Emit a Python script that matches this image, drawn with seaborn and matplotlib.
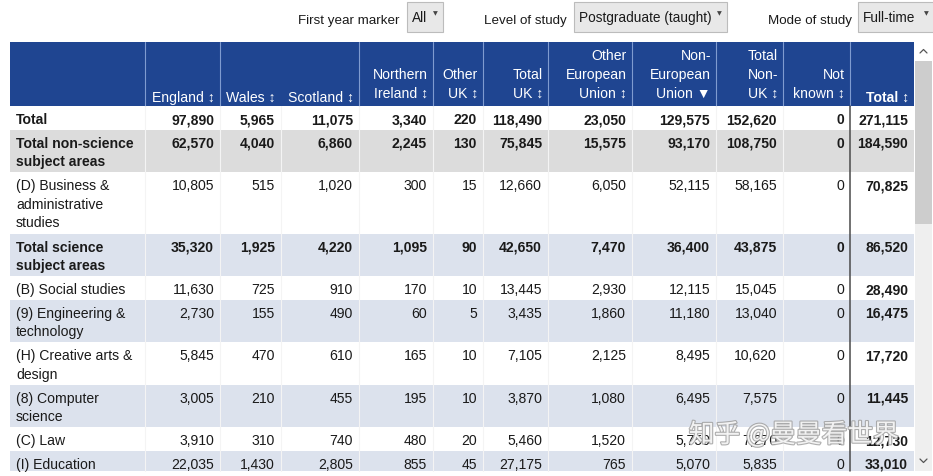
import matplotlib
matplotlib.use("Agg")
import matplotlib.pyplot as plt
import matplotlib.patheffects as pe
import seaborn as sns

# ---- data -------------------------------------------------------------
col_labels = [
    "England", "Wales", "Scotland", "Northern\nIreland", "Other\nUK",
    "Total\nUK", "Other\nEuropean\nUnion", "Non-\nEuropean\nUnion",
    "Total\nNon-\nUK", "Not\nknown", "Total",
]
sort_icons = ["↕", "↕", "↕", "↕", "↕", "↕", "↕", "▼", "↕", "↕", "↕"]

row_labels = [
    "Total",
    "Total non-science\nsubject areas",
    "(D) Business &\nadministrative\nstudies",
    "Total science\nsubject areas",
    "(B) Social studies",
    "(9) Engineering &\ntechnology",
    "(H) Creative arts &\ndesign",
    "(8) Computer\nscience",
    "(C) Law",
    "(I) Education",
]

total = [97890, 5965, 11075, 3340, 220, 118490, 23050, 129575, 152620, 0, 271115]
non_science = [62570, 4040, 6860, 2245, 130, 75845, 15575, 93170, 108750, 0, 184590]
business = [10805, 515, 1020, 300, 15, 12660, 6050, 52115, 58165, 0, 70825]
science = [35320, 1925, 4220, 1095, 90, 42650, 7470, 36400, 43875, 0, 86520]
social = [11630, 725, 910, 170, 10, 13445, 2930, 12115, 15045, 0, 28490]
engineering = [2730, 155, 490, 60, 5, 3435, 1860, 11180, 13040, 0, 16475]
creative = [5845, 470, 610, 165, 10, 7105, 2125, 8495, 10620, 0, 17720]
computer = [3005, 210, 455, 195, 10, 3870, 1080, 6495, 7575, 0, 11445]
law = [3910, 310, 740, 480, 20, 5460, 1520, 5750, 7270, 0, 12730]
education = [22035, 1430, 2805, 855, 45, 27175, 765, 5070, 5835, 0, 33010]

table_rows = [total, non_science, business, science, social,
              engineering, creative, computer, law, education]

filters = [
    ("First year marker", "All"),
    ("Level of study", "Postgraduate (taught)"),
    ("Mode of study", "Full-time"),
]

# ---- style / layout ---------------------------------------------------
HEADER_BLUE = "#1f4591"
GREY_ROW = "#dcdcdc"
BLUE_ROW = "#dce2ed"
TEXT = "#1a1a1a"

row_fill = ["white", GREY_ROW, "white", BLUE_ROW, "white",
            BLUE_ROW, "white", BLUE_ROW, "white", BLUE_ROW]
row_bold = [True, True, False, True, False, False, False, False, False, False]

label_width = 135
col_widths = [75, 61, 78, 74, 50, 65, 84, 84, 67, 67, 64]
table_left = 10
header_top, header_bottom = 43, 107
view_bottom = 472
line_h = 19
fs = 10.1

filter_label_right = [400, 567, 852]
filter_box = [(407, 443), (574, 727), (858, 935)]


def main() -> None:
    sns.set_theme(style="white")
    plt.rcParams["font.family"] = ["Liberation Sans", "DejaVu Sans"]

    fig = plt.figure(figsize=(9.33, 4.77), dpi=100)
    ax = fig.add_axes([0, 0, 1, 1])
    ax.set_xlim(0, 933)
    ax.set_ylim(477, 0)
    ax.set_axis_off()

    edges = [table_left, table_left + label_width]
    for w in col_widths:
        edges.append(edges[-1] + w)
    table_right = edges[-1]

    # filter controls
    for (label, value), right, (x0, x1) in zip(filters, filter_label_right, filter_box):
        ax.text(right, 21, label, ha="right", va="center", fontsize=9.6, color=TEXT)
        ax.add_patch(plt.Rectangle((x0, 3), x1 - x0, 30, facecolor="#e8e8e8",
                                   edgecolor="#bcbcbc", linewidth=0.8))
        ax.text(x0 + 5, 18, value, ha="left", va="center", fontsize=9.8, color=TEXT)
        ax.text(x1 - 8 if x1 < 933 else 926, 14, "▼", ha="center", va="center",
                fontsize=4.5, color="#444444", family=["DejaVu Sans"])

    # header band
    ax.bar(table_left, header_bottom - header_top, width=table_right - table_left,
           bottom=header_top, align="edge", color=HEADER_BLUE, linewidth=0)
    for i, x in enumerate(edges[1:-1], start=1):
        if i == 3:  # no divider between Wales and Scotland in the header
            continue
        ax.plot([x, x], [header_top, header_bottom], color="#7f9bd0", linewidth=0.8)

    for j, (lab, icon) in enumerate(zip(col_labels, sort_icons)):
        lines = lab.split("\n")
        lines[-1] = f"{lines[-1]} {icon}"
        last_y = 98 if len(lines) == 1 else 94
        right = edges[j + 2] - 5
        bold = lab == "Total"
        for k, line in enumerate(reversed(lines)):
            ax.text(right, last_y - k * line_h, line, ha="right", va="center",
                    fontsize=fs, color="white",
                    fontweight="bold" if bold else "normal")

    # body rows
    y = header_bottom
    for label, values, fill, bold in zip(row_labels, table_rows, row_fill, row_bold):
        n_lines = label.count("\n") + 1
        h = 4.5 + line_h * n_lines
        h_vis = min(h, view_bottom - y)
        ax.bar(table_left, h_vis, width=table_right - table_left, bottom=y,
               align="edge", color=fill, linewidth=0)
        weight = "bold" if bold else "normal"
        for k, line in enumerate(label.split("\n")):
            ax.text(table_left + 6, y + 13.3 + k * 18.6, line, ha="left", va="center",
                    fontsize=fs, color=TEXT, fontweight=weight)
        for j, v in enumerate(values):
            last_col = j == len(values) - 1
            ax.text(edges[j + 2] - 6, y + 13.3, f"{v:,}", ha="right", va="center",
                    fontsize=fs, color=TEXT,
                    fontweight="bold" if (bold or last_col) else "normal")
        y += h

    # cell dividers in the body
    for x in edges[1:-2]:
        ax.plot([x, x], [header_bottom, view_bottom], color="#f4f4f4", linewidth=0.8)
    ax.plot([edges[-2], edges[-2]], [header_bottom, view_bottom],
            color="#4a4a4a", linewidth=1.1)

    # scrollbar
    sb_left, sb_right = 915, 932
    ax.bar(sb_left, view_bottom - 62, width=sb_right - sb_left, bottom=62,
           align="edge", color="#efefef", linewidth=0)
    ax.bar(sb_left, 225 - 62, width=sb_right - sb_left, bottom=62,
           align="edge", color="#cdcdcd", linewidth=0)
    cx = (sb_left + sb_right) / 2
    ax.plot([cx - 3.5, cx, cx + 3.5], [54, 50.5, 54], color="#555555", linewidth=0.9)
    ax.plot([cx - 3.5, cx, cx + 3.5], [460, 463.5, 460], color="#555555", linewidth=0.9)

    # watermark
    ax.text(794, 436, "知乎 @曼曼看世界", ha="center", va="center", fontsize=18.5,
            color="white", alpha=0.85,
            family=["Noto Sans CJK SC", "DejaVu Sans"],
            path_effects=[pe.withStroke(linewidth=1.6, foreground="#a0a0a0")])

    fig.savefig("out.png", dpi=100, facecolor="white")
    plt.close(fig)


if __name__ == "__main__":
    main()
